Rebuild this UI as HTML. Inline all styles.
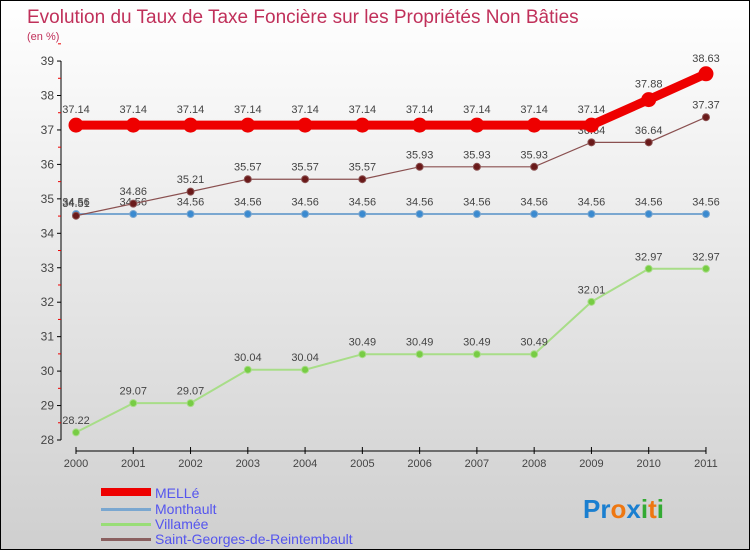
<!DOCTYPE html>
<html><head><meta charset="utf-8"><style>
body{margin:0}
#c{width:748px;height:548px;border:1px solid #000;background:linear-gradient(#ffffff,#cfcfcf);position:relative;font-family:"Liberation Sans",sans-serif;overflow:hidden}
</style></head><body>
<div id="c">
<svg id="s" width="748" height="548" xmlns="http://www.w3.org/2000/svg">
<text x="26" y="22" font-size="19" fill="#c0305a">Evolution du Taux de Taxe Foncière sur les Propriétés Non Bâties</text>
<text x="26" y="39" font-size="11" fill="#c0305a">(en %)</text>
<g id="axes"></g><g id="series"></g>
<g>
<rect x="100" y="487" width="50" height="8" fill="#e00"/>
<text x="154" y="497" font-size="14" fill="#5555ee">MELLé</text>
<rect x="100" y="507" width="50" height="3" fill="#7aa7d0"/>
<text x="154" y="513" font-size="14" fill="#5555ee">Monthault</text>
<rect x="100" y="522" width="50" height="3" fill="#99dd77"/>
<text x="154" y="528" font-size="14" fill="#5555ee">Villamée</text>
<rect x="100" y="537" width="50" height="3" fill="#8a6060"/>
<text x="154" y="543" font-size="14" fill="#5555ee">Saint-Georges-de-Reintembault</text>
</g>
<text x="582" y="517" font-size="26" font-weight="bold"><tspan fill="#1a7fd0">Pr</tspan><tspan fill="#ee7711">o</tspan><tspan fill="#1a7fd0">x</tspan><tspan fill="#33aa33">i</tspan><tspan fill="#ee7711">t</tspan><tspan fill="#33aa33">i</tspan></text>
</svg></div>
<script>
const years=[2000,2001,2002,2003,2004,2005,2006,2007,2008,2009,2010,2011];
const yTicks=[28,29,30,31,32,33,34,35,36,37,38,39];
const melle=[37.14,37.14,37.14,37.14,37.14,37.14,37.14,37.14,37.14,37.14,37.88,38.63];
const monthault=[34.56,34.56,34.56,34.56,34.56,34.56,34.56,34.56,34.56,34.56,34.56,34.56];
const villamee=[28.22,29.07,29.07,30.04,30.04,30.49,30.49,30.49,30.49,32.01,32.97,32.97];
const stgeorges=[34.51,34.86,35.21,35.57,35.57,35.57,35.93,35.93,35.93,36.64,36.64,37.37];
const NS="http://www.w3.org/2000/svg";
const X=i=>75+i*57.27, Y=v=>439-(v-28)*34.45;
function mk(t,a,p){const e=document.createElementNS(NS,t);for(const k in a)e.setAttribute(k,a[k]);p.appendChild(e);return e;}
const ax=document.getElementById('axes');
let e=mk('line',{x1:60,y1:Y(39),x2:60,y2:Y(28),stroke:'#000'},ax);

yTicks.forEach(v=>{mk('line',{x1:56,y1:Y(v),x2:60,y2:Y(v),stroke:'#000'},ax);
 mk('line',{x1:57,y1:Y(v+0.5),x2:60,y2:Y(v+0.5),stroke:'#e00'},ax);
 const t=mk('text',{x:53,y:Y(v)+4,'font-size':12,fill:'#444','text-anchor':'end'},ax);t.textContent=v;
 });
e=mk('line',{x1:X(0),y1:450,x2:X(11),y2:450,stroke:'#000'},ax);

years.forEach((y,i)=>{mk('line',{x1:X(i),y1:446,x2:X(i),y2:453,stroke:'#000'},ax);
 const t=mk('text',{x:X(i),y:466,'font-size':11,fill:'#444','text-anchor':'middle'},ax);t.textContent=y;
 });
const sg=document.getElementById('series');
function draw(d,name,col,w,r,dot,lblCol){
 const g=mk('g',{},sg);
 const l=mk('polyline',{points:d.map((v,i)=>X(i)+','+Y(v)).join(' '),fill:'none',stroke:col,'stroke-width':w},g);
 
 d.forEach((v,i)=>{const c=mk('circle',{cx:X(i),cy:Y(v),r:r,fill:dot,stroke:col,'stroke-width':1},g);
  
  const t=mk('text',{x:X(i),y:Y(v)-(r+5),'font-size':11,fill:'#444','text-anchor':'middle'},g);t.textContent=v;
  });
}
draw(monthault,'monthault','#7aa7d0',2,3.5,'#3a8ad0');
draw(villamee,'villamee','#a8dd88',2,3.5,'#77cc44');
draw(stgeorges,'saint-georges','#8a5050',1.2,3.5,'#6a1a1a');
draw(melle,'melle','#ee0000',9,7,'#ee0000');
</script>
</body></html>
